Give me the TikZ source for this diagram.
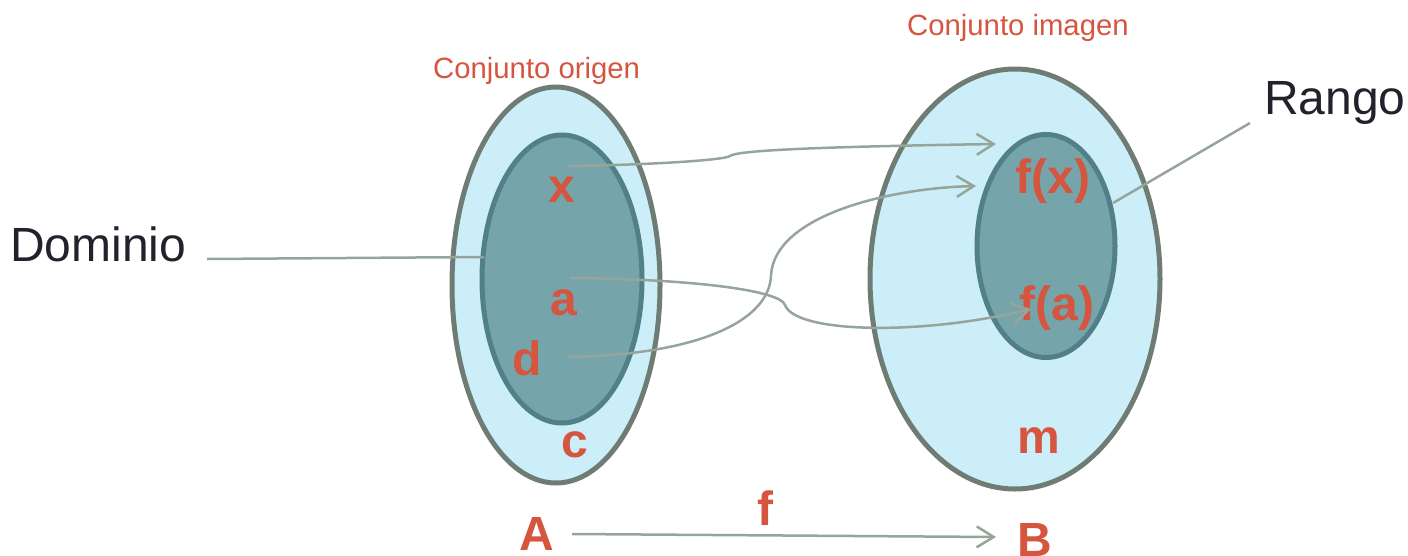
\documentclass[tikz,border=0pt]{standalone}
\usepackage{fontspec}
\setmainfont{Liberation Sans}
\usetikzlibrary{shapes.geometric,arrows.meta}
\definecolor{lblue}{HTML}{CCEEF9}
\definecolor{outerb}{HTML}{6E7C74}
\definecolor{innerf}{HTML}{75A5AA}
\definecolor{innerb}{HTML}{528088}
\definecolor{redt}{HTML}{D5553E}
\definecolor{conn}{HTML}{95A59B}
\definecolor{darkt}{HTML}{22222C}
\tikzset{
  outerset/.style={ellipse, draw=outerb, fill=lblue, line width=5pt, inner sep=0pt},
  innerset/.style={ellipse, draw=innerb, fill=innerf, line width=5pt, inner sep=0pt},
  elem/.style={text=redt, font=\fontsize{48}{50}\selectfont\bfseries, anchor=base, inner sep=0pt},
  caption/.style={text=redt, font=\fontsize{29.3}{31}\selectfont, anchor=base west, inner sep=0pt},
  biglabel/.style={text=darkt, font=\fontsize{48}{50}\selectfont, anchor=base west, inner sep=0pt},
  connector/.style={draw=conn, line width=2.5pt},
  mapto/.style={connector, -{Straight Barb[length=17pt,width=21pt,line width=2.5pt]}},
}
\begin{document}
\begin{tikzpicture}[x=1pt,y=-1pt]
\useasboundingbox (0,0) rectangle (1408,555);
% sets
\node[outerset, minimum width=208pt, minimum height=396pt] (Aout) at (556,285) {};
\node[innerset, minimum width=160pt, minimum height=288pt] (Ain) at (562,279) {};
\node[outerset, minimum width=290pt, minimum height=420pt] (Bout) at (1015,279) {};
\node[innerset, minimum width=138pt, minimum height=223pt] (Bin) at (1046,246) {};
% captions
\node[caption] (corig) at (433,78) {Conjunto origen};
\node[caption] (cimag) at (907,35) {Conjunto imagen};
\node[biglabel] (dom) at (10,261) {Dominio};
\node[biglabel] (rango) at (1264,114) {Rango};
% elements
\node[elem] (ex) at (562,202) {x};
\node[elem] (ea) at (564,315) {a};
\node[elem] (ed) at (527,375) {d};
\node[elem] (ec) at (575,457) {c};
\node[elem] (efx) at (1053,193) {f(x)};
\node[elem] (efa) at (1057,320) {f(a)};
\node[elem] (em) at (1039,453) {m};
\node[elem] (lA) at (537,550) {A};
\node[elem] (lB) at (1035,556) {B};
\node[elem] (lf) at (765,525) {f};
% connector end points
\coordinate (xs) at (567,166);
\coordinate (xe) at (996,144);
\coordinate (as) at (570,278);
\coordinate (ae) at (1031,309);
\coordinate (ds) at (567,357);
\coordinate (de) at (976,186);
\coordinate (doms) at (207,259);
\coordinate (dome) at (484,257);
\coordinate (rs) at (1250,123);
\coordinate (re) at (1113,203);
\coordinate (As) at (572,534);
\coordinate (Be) at (996,537);
% label lines
\draw[connector] (doms) -- (dome);
\draw[connector] (rs) -- (re);
% mappings
\draw[mapto] (xs) .. controls (650,165) and (725,160) .. (730,156)
  .. controls (736,151) and (800,147) .. (xe);
\draw[mapto] (as) .. controls (690,279) and (780,290) .. (785,305)
  .. controls (795,333) and (920,336) .. (ae);
\draw[mapto] (ds) .. controls (700,355) and (770,320) .. (771,275)
  .. controls (775,215) and (890,188) .. (de);
\draw[mapto] (As) -- (Be);
\end{tikzpicture}
\end{document}
